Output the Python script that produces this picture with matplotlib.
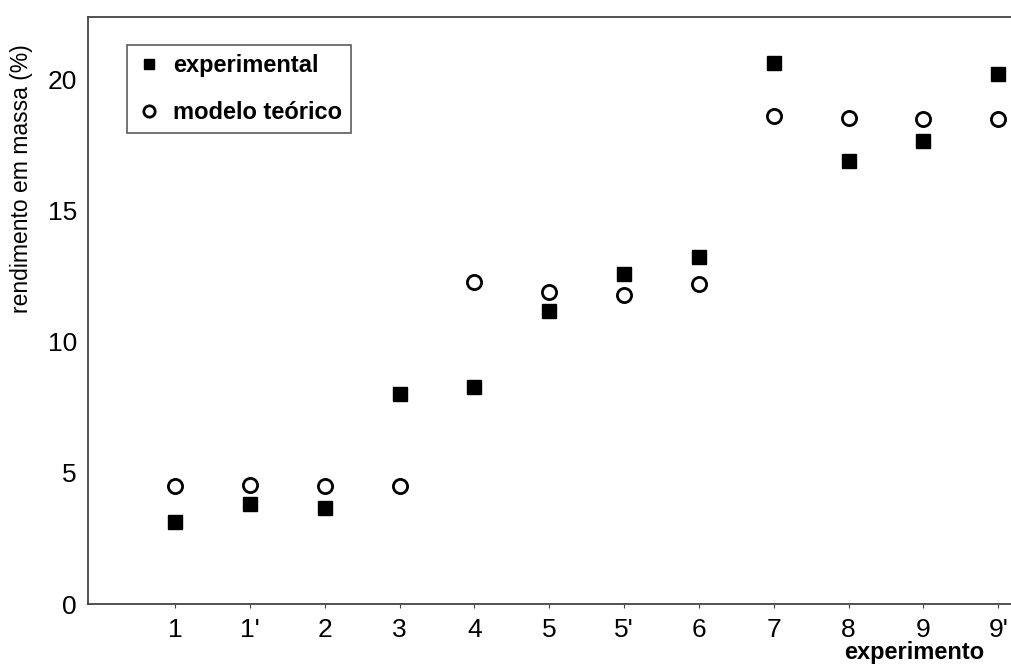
import matplotlib
matplotlib.use("Agg")
import matplotlib.pyplot as plt
import numpy as np

plt.rcParams["font.family"] = ["Liberation Sans", "DejaVu Sans"]

experimentos = ["1", "1'", "2", "3", "4", "5", "5'", "6", "7", "8", "9", "9'"]
experimental = [3.13, 3.82, 3.66, 8.02, 8.28, 11.18, 12.6, 13.24, 20.65, 16.9, 17.65, 20.2]
modelo_teorico = [4.5, 4.54, 4.5, 4.5, 12.3, 11.9, 11.8, 12.2, 18.6, 18.55, 18.5, 18.5]

fig = plt.figure(figsize=(10.11, 6.66), dpi=100)
ax = fig.add_axes([0.087, 0.093, 0.913, 0.882])

x = np.arange(len(experimentos))
ax.plot(x, experimental, "s", color="black", ms=9.4, lw=0, label="experimental")
ax.plot(x, modelo_teorico, "o", mfc="white", mec="black", mew=2.0, ms=10.2, lw=0,
        label="modelo teórico")

ax.set_xlim(-1.163, 11.17)
ax.set_ylim(0, 22.4)
ax.set_xticks(x)
ax.set_xticklabels(experimentos)
ax.set_yticks([0, 5, 10, 15, 20])
ax.tick_params(axis="both", labelsize=19, length=3, color="#444444")
ax.tick_params(axis="y", length=0, pad=8)
ax.tick_params(axis="x", pad=7)

for s in ["left", "bottom", "top"]:
    ax.spines[s].set_color("#444444")
    ax.spines[s].set_linewidth(1.3)
ax.spines["right"].set_visible(False)

ax.set_ylabel("rendimento em massa (%)", fontsize=16.5)
ax.yaxis.set_label_coords(-0.060, 0.724)
fig.text(0.904, 0.003, "experimento", fontsize=17, fontweight="bold", ha="center", va="bottom")

leg = ax.legend(loc="upper left", bbox_to_anchor=(0.042, 0.952), frameon=True, fancybox=False,
                edgecolor="#333333", handletextpad=0.45, borderpad=0.4, labelspacing=1.0,
                prop={"weight": "bold", "size": 17}, handlelength=1.1, markerscale=0.8,
                borderaxespad=0)
leg.get_frame().set_linewidth(1.2)

fig.savefig("out.png", dpi=100)
